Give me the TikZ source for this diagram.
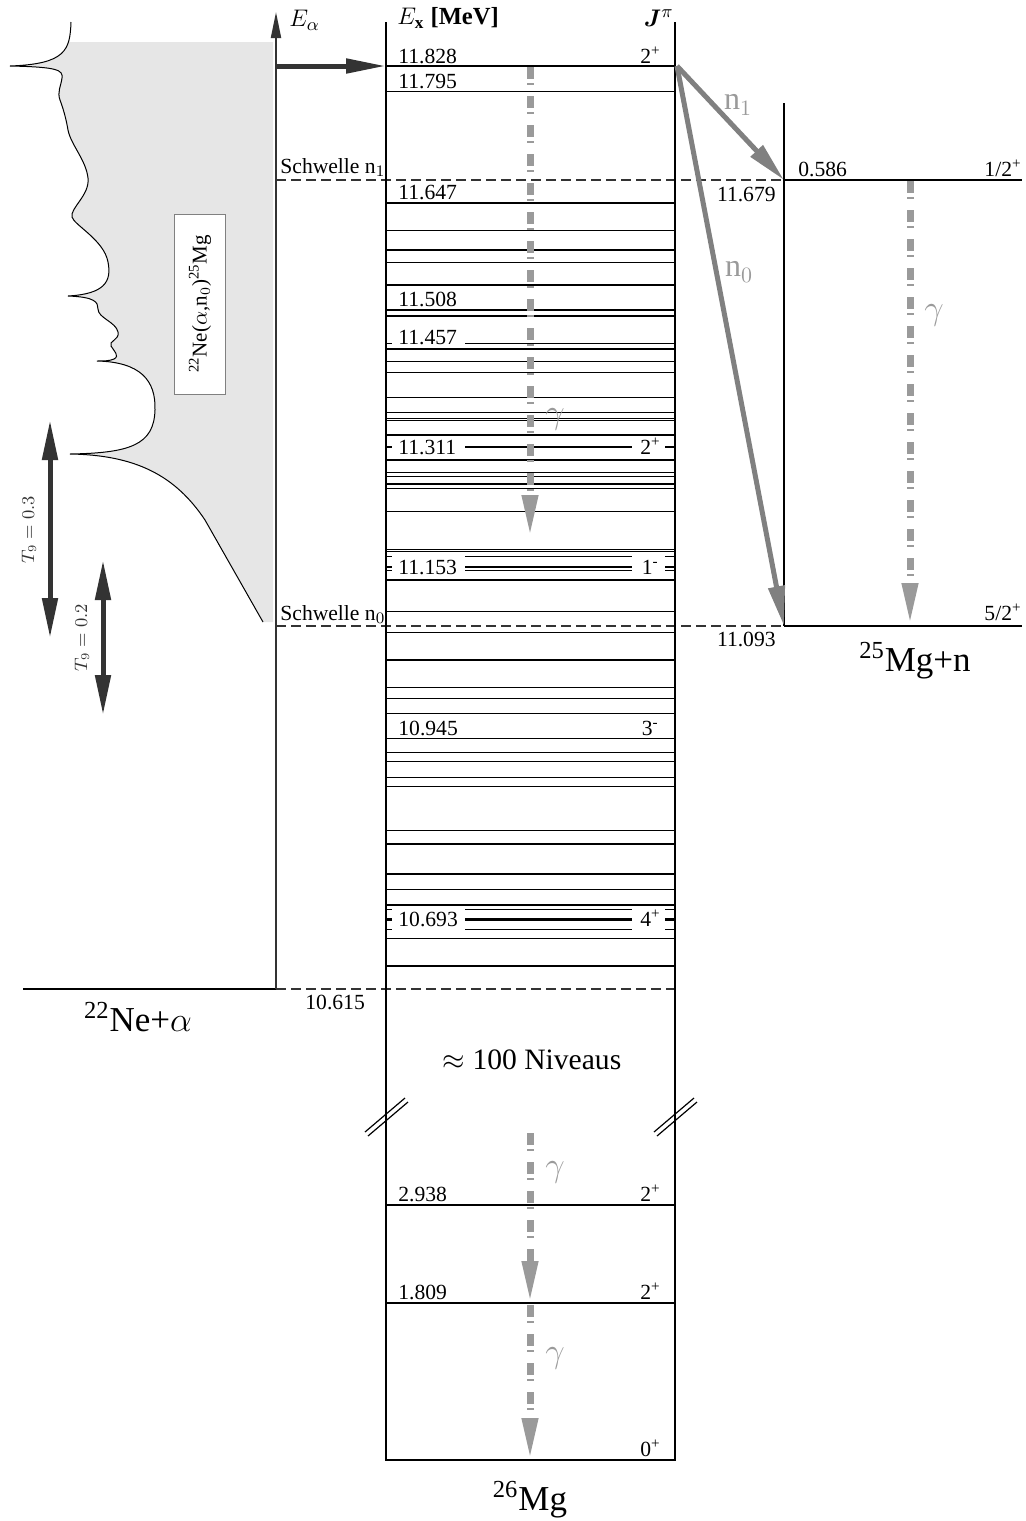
\documentclass[tikz,border=0pt]{standalone}
\usepackage{fontspec}
\setmainfont{Liberation Serif}
\usepackage{amsmath,amssymb}
\usepackage{bm}
\usetikzlibrary{arrows.meta,positioning}
\definecolor{darkGray}{HTML}{333333}
\definecolor{nGray}{HTML}{808080}
\definecolor{gGray}{HTML}{9A9A9A}
\definecolor{specGray}{HTML}{E6E6E6}

% excitation function (alpha,n)
\newcommand{\spectrum}{(71,22)
  .. controls (70,50) and (66,64) .. (10,66)
  .. controls (58,67) and (63,70) .. (62,78)
  .. controls (61,86) and (57,92) .. (60,100)
  .. controls (63,108) and (66,118) .. (68,130)
  .. controls (71,145) and (86,160) .. (88,178)
  .. controls (90,195) and (70,208) .. (72,217)
  .. controls (74,225) and (104,240) .. (108,262)
  .. controls (112,282) and (104,294) .. (68,296)
  .. controls (95,297) and (98,302) .. (98,309)
  .. controls (98,318) and (116,322) .. (118,332)
  .. controls (120,340) and (108,341) .. (111,346)
  .. controls (114,351) and (120,356) .. (114,359)
  .. controls (110,361) and (103,361) .. (97,361)
  .. controls (140,362) and (156,380) .. (155,410)
  .. controls (154,445) and (130,453) .. (70,454)
  .. controls (135,455) and (175,475) .. (205,520)
  -- (263,622)}
% level with gaps for the labels
\newcommand{\gaplvl}[2][lvl]{\draw[#1] (386,#2) -- (392,#2) (465,#2) -- (632,#2) (665,#2) -- (675,#2);}

\begin{document}
\begin{tikzpicture}[x=0.5pt, y=-0.5pt,
  lvl/.style={line width=0.6pt},
  lvlb/.style={line width=1.2pt},
  thr/.style={line width=0.6pt, darkGray, dash pattern=on 5pt off 2.5pt},
  num/.style={font=\fontsize{10.8}{12}\selectfont, inner sep=0pt},
  big/.style={font=\fontsize{17.5}{20}\selectfont, inner sep=0pt},
  hdr/.style={font=\fontsize{12.3}{14}\selectfont, inner sep=0pt},
  glab/.style={gGray, font=\fontsize{16}{18}\selectfont, inner sep=0pt},
  axarr/.style={line width=1pt, darkGray, -{Triangle[length=13pt,width=5pt]}},
  inarr/.style={line width=2.5pt, darkGray, -{Triangle[length=20pt,width=7pt]}},
  tarr/.style={line width=2.5pt, darkGray, {Triangle[length=20pt,width=7.5pt]}-{Triangle[length=20pt,width=7.5pt]}},
  narr/.style={line width=2.5pt, nGray, -{Triangle[length=20pt,width=8pt]}},
  gam/.style={line width=3.5pt, gGray, dash pattern=on 6pt off 2pt on 1pt off 5.5pt, -{Triangle[length=21pt,width=7.5pt]}},
  spec/.style={line width=0.5pt}
]
\useasboundingbox (0,0) rectangle (1026,1521);

% Spectrum
\begin{scope}
  \clip (0,42) rectangle (273,622);
  \fill[specGray] \spectrum -- (273,622) -- (273,22) -- cycle;
\end{scope}
\draw[spec] \spectrum;
\node[draw=nGray, fill=white, rotate=90, minimum width=90pt, minimum height=25.5pt, inner sep=0pt,
  font=\fontsize{10.5}{12}\selectfont] (reac) at (200,304) {\textsuperscript{22}Ne($\alpha$,n$_0$)\textsuperscript{25}Mg};

% Coordinates
\coordinate (axbot) at (276,989);
\coordinate (axtop) at (276,12);
\coordinate (ein) at (276,66);
\coordinate (lvtop) at (386,66);
\coordinate (lvtopR) at (677,66);
\coordinate (mg1) at (784,180);
\coordinate (mg0) at (784,626);
\coordinate (gs) at (530,1460);

% Thresholds
\draw[thr] (276,180) -- (mg1);
\draw[thr] (276,626) -- (mg0);
\draw[thr] (axbot) -- (675,989);
\draw[lvl] (23,989) -- (axbot);
\node[num, anchor=base west] (thr1) at (280,173) {Schwelle n$_1$};
\node[num, anchor=base west] (thr0) at (280,620) {Schwelle n$_0$};
\node[num, anchor=base west] (sep) at (305,1009) {10.615};
\node[big, anchor=base] (neal) at (138,1031) {\textsuperscript{22}Ne+$\alpha$};

% 26Mg levels
\draw[lvl] (386,22) -- (386,1460) -- (675,1460) -- (675,22);
\draw[lvl] (lvtop) -- (675,66);
\foreach \y in {91.7,203,230.7,250,262.7,285,310,316,349,361.7,372.7,397.7,412.3,418.3,420.5,435,460,472.7,476.7,484,488.3,511.7,
  549.3,551.5,580,611.7,632.7,660,687.3,698.3,713.3,738.3,752.7,761.7,777.3,786.7,830.7,844,874,889.3,905,938.3,966,1205,1303}
  \draw[lvl] (386,\y) -- (675,\y);
\draw[lvl] (386,343.3) -- (392,343.3) (465,343.3) -- (675,343.3);
\gaplvl[lvlb]{446.7}
\gaplvl{556.7}
\gaplvl[lvlb]{566.7}
\gaplvl{570.7}
\gaplvl{909.3}
\gaplvl[lvlb]{919.3}
\gaplvl{929.3}

% Breaks
\draw[lvl, shift={(386,1115)}] (-21,17) -- (19,-17) (-18,21) -- (22,-13);
\draw[lvl, shift={(675,1115)}] (-21,17) -- (19,-17) (-18,21) -- (22,-13);

% Headers
\node[hdr, anchor=west] (ealpha) at (289,20) {$E_\alpha$};
\node[hdr, anchor=west] (ex) at (397,18) {$E_{\mathbf{x}}$ \textbf{[MeV]}};
\node[hdr, anchor=east] (jpi) at (674,18) {$\bm{J}^{\pi}$};

% Level labels
\node[num, anchor=base west] (e11828) at (398,63) {11.828};
\node[num, anchor=base east] (j11828) at (661,63) {2\textsuperscript{+}};
\node[num, anchor=base west] (e11795) at (398,88) {11.795};
\node[num, anchor=base west] (e11647) at (398,199) {11.647};
\node[num, anchor=base west] (e11508) at (398,306) {11.508};
\node[num, anchor=base west] (e11457) at (398,344) {11.457};
\node[num, anchor=base west] (e11311) at (398,454) {11.311};
\node[num, anchor=base east] (j11311) at (661,454) {2\textsuperscript{+}};
\node[num, anchor=base west] (e11153) at (398,574) {11.153};
\node[num, anchor=base east] (j11153) at (659,574) {1\textsuperscript{-}};
\node[num, anchor=base west] (e10945) at (398,735) {10.945};
\node[num, anchor=base east] (j10945) at (659,735) {3\textsuperscript{-}};
\node[num, anchor=base west] (e10693) at (398,926) {10.693};
\node[num, anchor=base east] (j10693) at (661,926) {4\textsuperscript{+}};
\node[num, anchor=base west] (e2938) at (398,1201) {2.938};
\node[num, anchor=base east] (j2938) at (661,1201) {2\textsuperscript{+}};
\node[num, anchor=base west] (e1809) at (398,1299) {1.809};
\node[num, anchor=base east] (j1809) at (661,1299) {2\textsuperscript{+}};
\node[num, anchor=base east] (j0) at (661,1456) {0\textsuperscript{+}};
\node[font=\fontsize{14.8}{17}\selectfont, inner sep=0pt, anchor=base] (niv) at (532,1069) {$\approx$ 100 Niveaus};
\node[big, anchor=base] (mg26) at (530,1510) {\textsuperscript{26}Mg};

% 25Mg+n
\draw[lvl] (784,103) -- (mg0);
\draw[lvl] (mg1) -- (1022,180);
\draw[lvl] (mg0) -- (1022,626);
\node[num, anchor=base west] (e586) at (798,176) {0.586};
\node[num, anchor=base east] (j586) at (1022,176) {1/2\textsuperscript{+}};
\node[num, anchor=base east] (e11679) at (776,201) {11.679};
\node[num, anchor=base east] (e11093) at (776,646) {11.093};
\node[num, anchor=base east] (j0n) at (1022,620) {5/2\textsuperscript{+}};
\node[big, anchor=base] (mg25) at (915,671) {\textsuperscript{25}Mg+n};

% Arrows
\draw[axarr] (axbot) -- (axtop);
\draw[inarr] (ein) -- (lvtop);
\draw[narr] (lvtopR) -- (mg1);
\draw[narr] (lvtopR) -- (mg0);
\node[glab] (ln1) at (738,105) {n$_1$};
\node[glab] (ln0) at (739,272) {n$_0$};
\draw[gam] (530,67) -- (530,537);
\draw[gam] (910,181) -- (910,625);
\draw[gam] (530,1133) -- (530,1303);
\draw[gam] (530,1305) -- (gs);
\node[glab] (lg1) at (555,419) {$\gamma$};
\node[glab] (lg2) at (934,315) {$\gamma$};
\node[glab] (lg3) at (555,1172) {$\gamma$};
\node[glab] (lg4) at (555,1358) {$\gamma$};

% Temperatures
\draw[tarr] (50,420) -- (50,638);
\draw[tarr] (103,560) -- (103,715);
\node[rotate=90, darkGray, font=\fontsize{9}{11}\selectfont] (t03) at (29,530) {$T_9 = 0.3$};
\node[rotate=90, darkGray, font=\fontsize{9}{11}\selectfont] (t02) at (82,638) {$T_9 = 0.2$};
\end{tikzpicture}
\end{document}
